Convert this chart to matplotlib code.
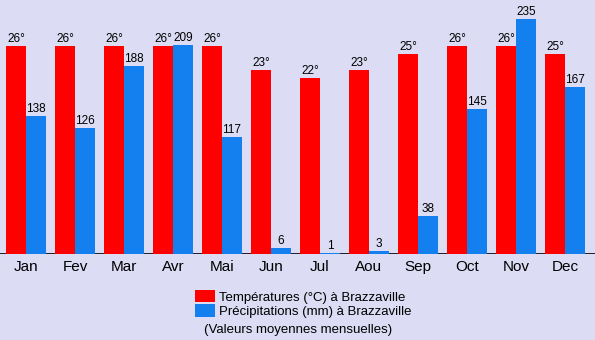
import matplotlib
matplotlib.use("Agg")
import matplotlib.pyplot as plt

months = ["Jan", "Fev", "Mar", "Avr", "Mai", "Jun", "Jul", "Aou", "Sep", "Oct", "Nov", "Dec"]
temperatures = [26, 26, 26, 26, 26, 23, 22, 23, 25, 26, 26, 25]
precipitations = [138, 126, 188, 209, 117, 6, 1, 3, 38, 145, 235, 167]

temp_label = "Températures (°C) à Brazzaville"
prec_label = "Précipitations (mm) à Brazzaville"
note = "(Valeurs moyennes mensuelles)"

RED = "#ff0000"
BLUE = "#1480f0"
BG = "#dcdcf4"

plt.rcParams["font.family"] = ["Liberation Sans", "DejaVu Sans"]

W, H = 595, 340
fig = plt.figure(figsize=(W / 100, H / 100), dpi=100, facecolor=BG)

base_px = 254  # baseline, pixels from top
ax = fig.add_axes([0, (H - base_px) / H, 1, base_px / H])
ax.set_facecolor("none")
ax2 = ax.twinx()
ax2.set_facecolor("none")

pitch = 49.0
bw = 20 / pitch
x = list(range(len(months)))

# precipitation: 1 px per mm; temperature: 8 px per degree
ax.set_ylim(0, base_px)
ax2.set_ylim(0, base_px / 8)
ax.set_xlim(-26 / pitch, (W - 26) / pitch)

bars_t = ax2.bar([i - bw for i in x], temperatures, width=bw, align="edge",
                 color=RED, linewidth=0, label=temp_label)
bars_p = ax.bar(x, precipitations, width=bw, align="edge",
                color=BLUE, linewidth=0, label=prec_label)

for i, t in enumerate(temperatures):
    ax2.annotate(f"{t}°", (i - bw / 2, t), xytext=(0, 1), textcoords="offset points",
                 ha="center", va="bottom", fontsize=8.5, color="black")
for i, p in enumerate(precipitations):
    ax.annotate(f"{p}", (i + bw / 2, p), xytext=(0, 1), textcoords="offset points",
                ha="center", va="bottom", fontsize=8.5, color="black")

ax.axhline(0, color="black", lw=1.2, zorder=0)

for a in (ax, ax2):
    for s in a.spines.values():
        s.set_visible(False)
    a.set_yticks([])
ax.set_xticks(x)
ax.set_xticklabels(months, fontsize=11)
ax.tick_params(axis="x", length=0, pad=4)

fig.legend(handles=[bars_t, bars_p], labels=[temp_label, prec_label],
           loc="upper left", bbox_to_anchor=(195 / W, 1 - 290 / H),
           frameon=False, fontsize=9.5, borderpad=0, borderaxespad=0,
           handlelength=1.5, handleheight=1.05, handletextpad=0.3,
           labelspacing=0.05)
fig.text(298 / W, 1 - 330 / H, note, ha="center", va="center", fontsize=9.5)

fig.savefig("out.png", dpi=100, facecolor=BG)
